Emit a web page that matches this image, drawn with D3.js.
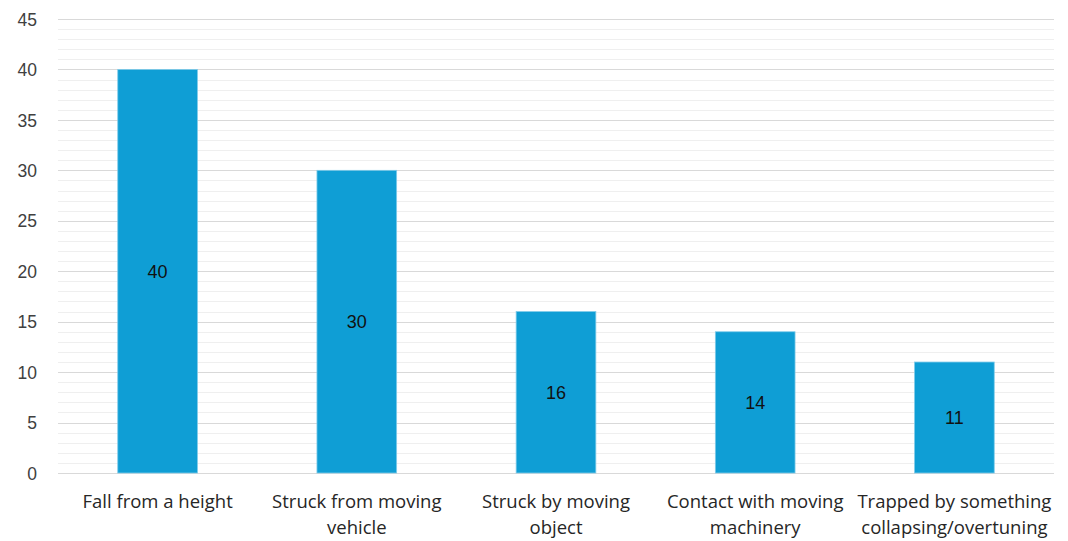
<!DOCTYPE html>
<html>
<head>
<meta charset="utf-8">
<script src="https://cdn.jsdelivr.net/npm/d3@7"></script>
<style>
  html, body { margin: 0; padding: 0; background: #ffffff; }
  svg { display: block; }
</style>
</head>
<body>
<svg id="chart" width="1068" height="541"></svg>
<script>
// Incident categories (each split into display lines) and counts
const categories = [
  "Fall from a height",
  "Struck from moving vehicle",
  "Struck by moving object",
  "Contact with moving machinery",
  "Trapped by something collapsing/overtuning"
];
const categoryLines = [
  ["Fall from a height"],
  ["Struck from moving", "vehicle"],
  ["Struck by moving", "object"],
  ["Contact with moving", "machinery"],
  ["Trapped by something", "collapsing/overtuning"]
];
const values = [40, 30, 16, 14, 11];
const yTicks = [0, 5, 10, 15, 20, 25, 30, 35, 40, 45];
const minorTicks = d3.range(0, 46, 1);

const svg = d3.select("#chart");
const margin = { left: 58, right: 14, top: 19, bottom: 68 };
const width = 1068, height = 541;

const x = d3.scaleBand()
  .domain(categories)
  .range([margin.left, width - margin.right])
  .paddingInner(0.6)
  .paddingOuter(0.3);

const y = d3.scaleLinear()
  .domain([0, 45])
  .range([height - margin.bottom, margin.top]);

// minor gridlines
svg.append("g")
  .selectAll("line")
  .data(minorTicks.filter(d => d % 5 !== 0))
  .join("line")
  .attr("x1", margin.left)
  .attr("x2", width - margin.right)
  .attr("y1", d => Math.round(y(d)) + 0.5)
  .attr("y2", d => Math.round(y(d)) + 0.5)
  .attr("stroke", "#efefef")
  .attr("stroke-width", 1);

// major gridlines
svg.append("g")
  .selectAll("line")
  .data(yTicks)
  .join("line")
  .attr("x1", margin.left)
  .attr("x2", width - margin.right)
  .attr("y1", d => Math.round(y(d)) + 0.5)
  .attr("y2", d => Math.round(y(d)) + 0.5)
  .attr("stroke", "#d9d9d9")
  .attr("stroke-width", 1);

// y axis labels
const yAxis = d3.axisLeft(y).tickValues(yTicks).tickSize(0).tickPadding(0);
const yg = svg.append("g")
  .attr("transform", `translate(${margin.left - 21},0)`)
  .call(yAxis);
yg.select(".domain").remove();
yg.selectAll("text")
  .attr("font-family", "'Liberation Sans', Arial, sans-serif")
  .attr("font-size", 17.5)
  .attr("fill", "#404040")
  .attr("dy", "0.35em");

// bars
svg.append("g")
  .selectAll("rect")
  .data(values)
  .join("rect")
  .attr("x", (d, i) => x(categories[i]))
  .attr("y", d => y(d))
  .attr("width", x.bandwidth())
  .attr("height", d => y(0) - y(d))
  .attr("fill", "#0f9ed5")
  .attr("stroke", "#7fcbe9")
  .attr("stroke-width", 0.8);

// value labels centred in each bar
svg.append("g")
  .selectAll("text")
  .data(values)
  .join("text")
  .attr("x", (d, i) => x(categories[i]) + x.bandwidth() / 2)
  .attr("y", d => (y(d) + y(0)) / 2)
  .attr("dy", "0.35em")
  .attr("text-anchor", "middle")
  .attr("font-family", "'Liberation Sans', Arial, sans-serif")
  .attr("font-size", 18)
  .attr("fill", "#111111")
  .text(d => d);

// category labels
const xg = svg.append("g");
categories.forEach((c, i) => {
  const t = xg.append("text")
    .attr("x", x(c) + x.bandwidth() / 2)
    .attr("y", 508)
    .attr("text-anchor", "middle")
    .attr("font-family", "'Open Sans', 'Noto Sans', sans-serif")
    .attr("font-size", 18.5)
    .attr("fill", "#262626");
  categoryLines[i].forEach((line, j) => {
    t.append("tspan")
      .attr("x", x(c) + x.bandwidth() / 2)
      .attr("dy", j === 0 ? 0 : 26)
      .text(line);
  });
});
</script>
</body>
</html>
